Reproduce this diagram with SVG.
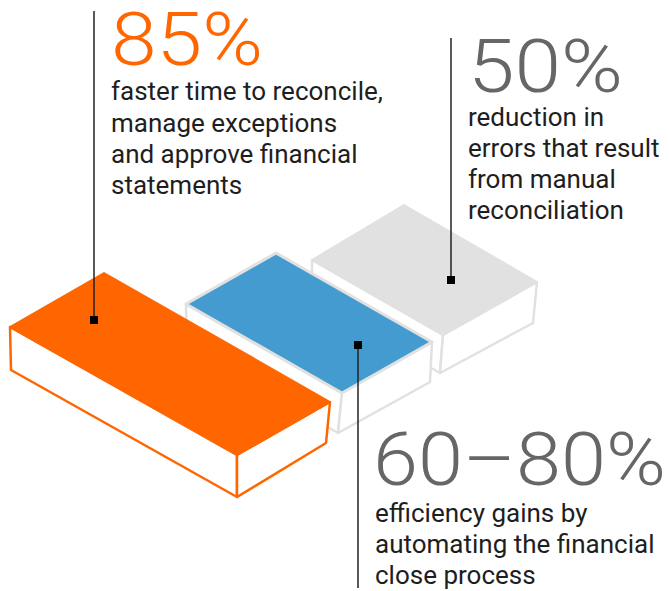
<svg xmlns="http://www.w3.org/2000/svg" width="669" height="591" viewBox="0 0 669 591">
  <style>
    .num { font-family: Roboto, "Liberation Sans", sans-serif; font-weight: 300; font-size: 75px; }
    .body { font-family: Roboto, "Liberation Sans", sans-serif; font-weight: 400; font-size: 26px; fill: #1e1e1e; }
    .orange { fill: #ff6600; }
    .grey { fill: #666666; }
    .side-o { fill: #ffffff; stroke: #ff6600; stroke-width: 2.5; stroke-linejoin: round; }
    .top-o { fill: #ff6600; stroke: #ff6600; stroke-width: 2; stroke-linejoin: round; }
    .side-g { fill: #ffffff; stroke: #e1e1e1; stroke-width: 2.5; stroke-linejoin: round; }
    .top-b { fill: #439bcf; stroke: #e1e1e1; stroke-width: 3; stroke-linejoin: round; }
    .top-g { fill: #e1e1e1; stroke: #e1e1e1; stroke-width: 2; stroke-linejoin: round; }
    .lead { stroke: #222222; stroke-width: 1.5; fill: none; }
    .dot { fill: #000000; }
  </style>

  <g id="box-grey">
    <polygon class="side-g" points="312,260 443,335 440,373 312,299"/>
    <polygon class="side-g" points="443,335 537,282 533,323 440,373"/>
    <polygon class="top-g" points="312,260 404,205 537,282 443,335"/>
  </g>

  <g id="box-blue">
    <polygon class="side-g" points="186,304 342,393 338,433 187,344"/>
    <polygon class="side-g" points="342,393 432,342 430,382 338,433"/>
    <polygon class="top-b" points="186,304 276,253 432,342 342,393"/>
  </g>

  <g id="box-orange">
    <polygon class="side-o" points="10,327 237,455 237,497 11,370"/>
    <polygon class="side-o" points="237,455 330,402 326,443 237,497"/>
    <polygon class="top-o" points="10,327 104,273 330,402 237,455"/>
  </g>

  <g id="connectors">
    <line class="lead" x1="94" y1="11" x2="94" y2="320"/>
    <rect class="dot" x="90" y="316" width="8" height="8"/>
    <line class="lead" x1="451" y1="38" x2="451" y2="280"/>
    <rect class="dot" x="447" y="276" width="8" height="8"/>
    <line class="lead" x1="358" y1="345" x2="358" y2="588"/>
    <rect class="dot" x="354" y="341" width="8" height="8"/>
  </g>

  <g id="stat-85">
    <text class="num orange" x="111" y="65" textLength="152" lengthAdjust="spacingAndGlyphs">85%</text>
    <text class="body" x="111" y="100">faster time to reconcile,</text>
    <text class="body" x="111" y="132">manage exceptions</text>
    <text class="body" x="111" y="163">and approve financial</text>
    <text class="body" x="111" y="194">statements</text>
  </g>

  <g id="stat-50">
    <text class="num grey" x="468" y="92" textLength="155" lengthAdjust="spacingAndGlyphs">50%</text>
    <text class="body" x="468" y="126">reduction in</text>
    <text class="body" x="468" y="157">errors that result</text>
    <text class="body" x="468" y="188">from manual</text>
    <text class="body" x="468" y="219">reconciliation</text>
  </g>

  <g id="stat-60-80">
    <text class="num grey" x="373" y="485" textLength="293" lengthAdjust="spacingAndGlyphs">60–80%</text>
    <text class="body" x="375" y="522">efficiency gains by</text>
    <text class="body" x="375" y="553">automating the financial</text>
    <text class="body" x="375" y="584">close process</text>
  </g>
</svg>
